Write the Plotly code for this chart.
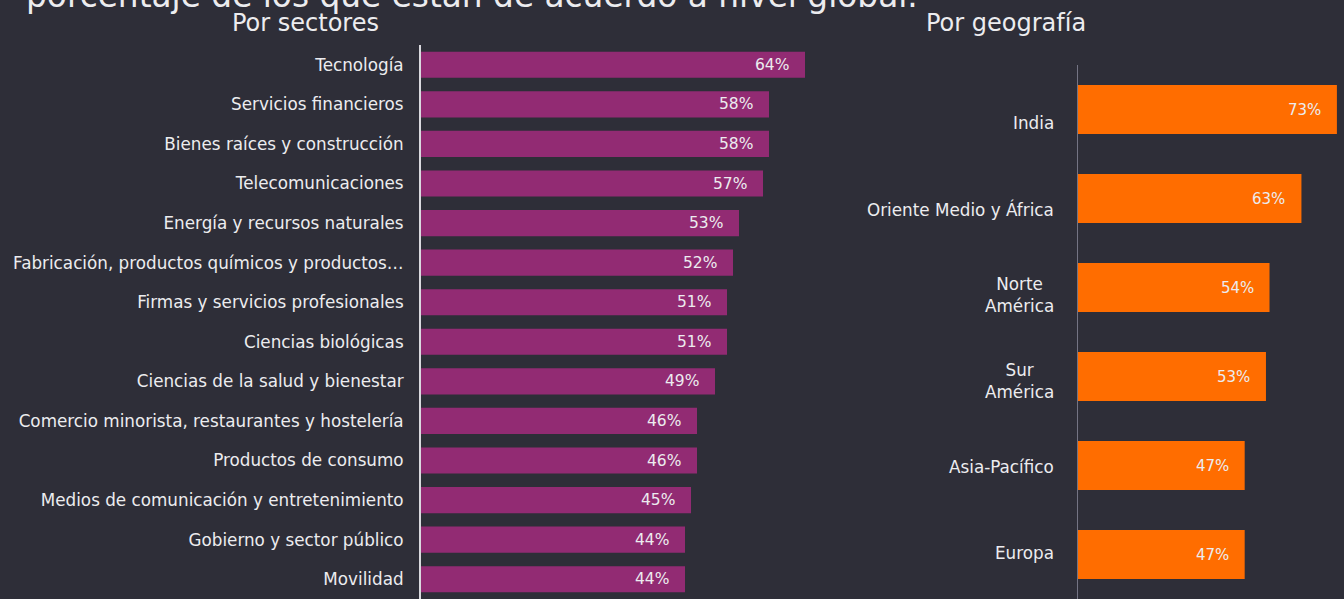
import plotly.graph_objects as go

# Sector breakdown (share that agree, %)
sectores = [
    "Tecnología",
    "Servicios financieros",
    "Bienes raíces y construcción",
    "Telecomunicaciones",
    "Energía y recursos naturales",
    "Fabricación, productos químicos y productos…",
    "Firmas y servicios profesionales",
    "Ciencias biológicas",
    "Ciencias de la salud y bienestar",
    "Comercio minorista, restaurantes y hostelería",
    "Productos de consumo",
    "Medios de comunicación y entretenimiento",
    "Gobierno y sector público",
    "Movilidad",
]
valores_sectores = [64, 58, 58, 57, 53, 52, 51, 51, 49, 46, 46, 45, 44, 44]

# Geographic breakdown (share that agree, %)
regiones = [
    "India",
    "Oriente Medio y África",
    "Norte<br>América",
    "Sur<br>América",
    "Asia-Pacífico",
    "Europa",
]
valores_regiones = [73, 63, 54, 53, 47, 47]

titulo = "porcentaje de los que están de acuerdo a nivel global."
subtitulo_sectores = "Por sectores"
subtitulo_regiones = "Por geografía"

BG = "#2e2e38"
PURPLE = "#922b73"
ORANGE = "#ff6d00"
TEXT = "#ececef"
FONT = "DejaVu Sans"
LABEL_SIZE = 16.8
W, H = 1344, 599

fig = go.Figure()

fig.add_trace(go.Bar(
    x=valores_sectores, y=sectores, orientation="h",
    marker=dict(color=PURPLE, line=dict(width=0)),
    xaxis="x", yaxis="y", hoverinfo="skip",
))
fig.add_trace(go.Bar(
    x=valores_regiones, y=regiones, orientation="h", width=0.55,
    marker=dict(color=ORANGE, line=dict(width=0)),
    xaxis="x2", yaxis="y2", hoverinfo="skip",
))

annotations = []
for cat, v in zip(sectores, valores_sectores):
    annotations.append(dict(
        x=v, y=cat, xref="x", yref="y", text=f"{v}%", showarrow=False,
        xanchor="right", yanchor="middle", xshift=-14,
        font=dict(family=FONT, size=15.5, color=TEXT),
    ))
for cat, v in zip(regiones, valores_regiones):
    annotations.append(dict(
        x=v, y=cat, xref="x2", yref="y2", text=f"{v}%", showarrow=False,
        xanchor="right", yanchor="middle", xshift=-14,
        font=dict(family=FONT, size=15, color=TEXT),
    ))

# Region names sit on their own label axis (y3), slightly tighter than the bars
for i, cat in enumerate(regiones):
    annotations.append(dict(
        x=1056 / W, y=i, xref="paper", yref="y3", text=cat, showarrow=False,
        xanchor="right", yanchor="middle", align="center",
        font=dict(family=FONT, size=LABEL_SIZE, color=TEXT),
    ))

annotations += [
    dict(x=24 / W, y=1, xref="paper", yref="paper", xanchor="left", yanchor="top",
         yshift=25, text=titulo, showarrow=False,
         font=dict(family=FONT, size=32.8, color=TEXT)),
    dict(x=305 / W, y=1 - 23 / H, xref="paper", yref="paper", xanchor="center",
         yanchor="middle", text=subtitulo_sectores, showarrow=False,
         font=dict(family=FONT, size=24, color=TEXT)),
    dict(x=1006 / W, y=1 - 23 / H, xref="paper", yref="paper", xanchor="center",
         yanchor="middle", text=subtitulo_regiones, showarrow=False,
         font=dict(family=FONT, size=24, color=TEXT)),
]

fig.update_layout(
    width=W, height=H,
    margin=dict(l=0, r=0, t=0, b=0),
    paper_bgcolor=BG, plot_bgcolor="rgba(0,0,0,0)",
    showlegend=False,
    font=dict(family=FONT, size=LABEL_SIZE, color=TEXT),
    xaxis=dict(domain=[421 / W, (421 + 70 * 6) / W], range=[0, 70],
               visible=False, fixedrange=True),
    yaxis=dict(domain=[0, 1 - 45 / H], autorange="reversed",
               showline=True, linecolor="#d9d9de", linewidth=2,
               ticks="outside", ticklen=12, tickcolor="rgba(0,0,0,0)",
               showgrid=False, tickfont=dict(family=FONT, size=LABEL_SIZE, color=TEXT)),
    xaxis2=dict(domain=[1078 / W, 1.0], range=[0, 75], anchor="y2",
                visible=False, fixedrange=True),
    yaxis2=dict(domain=[0, 1 - 65 / H], anchor="x2", autorange="reversed",
                showline=True, linecolor="#747484", linewidth=1,
                showticklabels=False, ticks="", showgrid=False),
    xaxis3=dict(domain=[1078 / W, 1.0], range=[0, 1], anchor="y3",
                visible=False, fixedrange=True),
    yaxis3=dict(domain=[3 / H, 1 - 80 / H], anchor="x3", range=[5.5, -0.5],
                visible=False, fixedrange=True),
    bargap=0.34,
    annotations=annotations,
)

fig.write_html("out.html")
